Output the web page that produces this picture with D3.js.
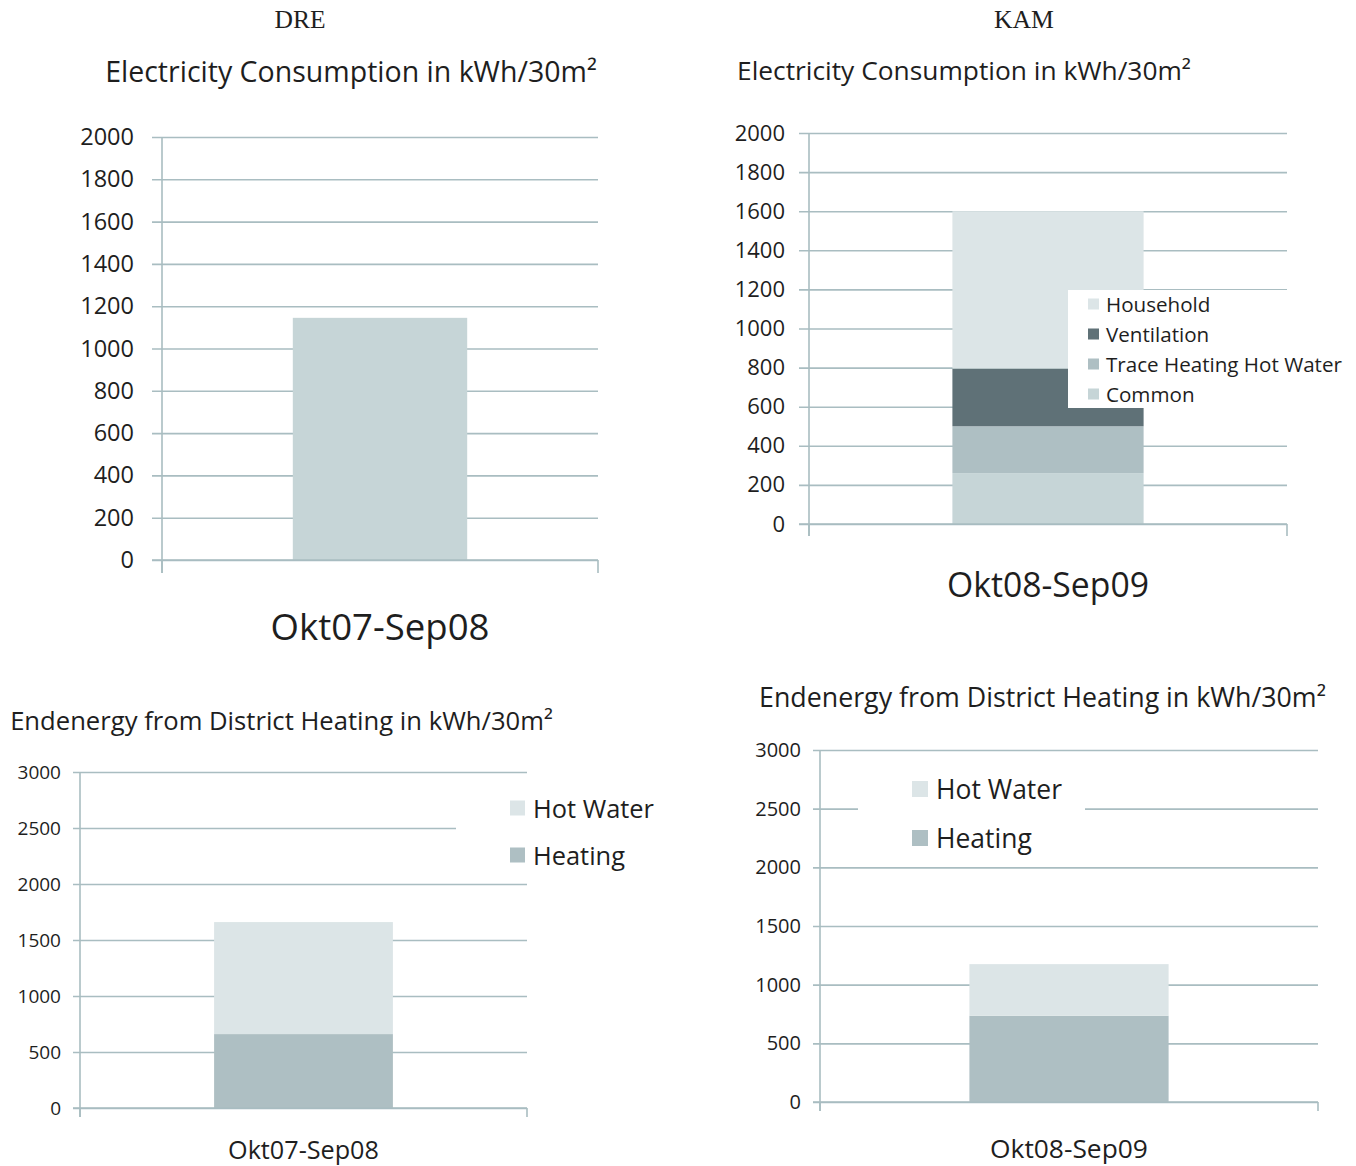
<!DOCTYPE html>
<html><head><meta charset="utf-8">
<script src="https://cdn.jsdelivr.net/npm/d3@7"></script>
<style>body{margin:0;background:#fff}svg{display:block}</style>
</head><body>
<svg id="c" width="1356" height="1166"></svg>
<script>
// ---- data ----
const PERIOD_DRE = ["Okt07-Sep08"];
const PERIOD_KAM = ["Okt08-Sep09"];
const ELEC_TICKS = [0,200,400,600,800,1000,1200,1400,1600,1800,2000];
const HEAT_TICKS = [0,500,1000,1500,2000,2500,3000];

const DRE_ELEC_SERIES = ["Total"];
const DRE_ELEC_VALUES = [1145];

const KAM_ELEC_SERIES = ["Common","Trace Heating Hot Water","Ventilation","Household"];
const KAM_ELEC_VALUES = [260,240,295,805];

const HEAT_SERIES = ["Heating","Hot Water"];
const DRE_HEAT_VALUES = [660,1000];
const KAM_HEAT_VALUES = [735,440];

const COLORS = {
  "Total":"#c6d5d7","Common":"#c6d5d7","Trace Heating Hot Water":"#aebfc3",
  "Ventilation":"#5f7177","Household":"#dce5e7","Heating":"#aebfc3","Hot Water":"#dce5e7"
};
const GRID = "#a9bdc1";
const TXT = "#1e1e1e";
const FONT = "'Open Sans', 'Noto Sans', sans-serif";

const svg = d3.select("#c");

function fitText(sel, width){
  const n = sel.node(); const fs = parseFloat(sel.attr("font-size"));
  const w = n.getComputedTextLength();
  if (w>0) sel.attr("font-size", fs*width/w);
  return sel;
}
function label(x, y, text, size, opts={}){
  const t = svg.append("text").attr("x",x).attr("y",y).text(text)
    .attr("font-family", opts.family||FONT).attr("font-size",size)
    .attr("fill",TXT).attr("dominant-baseline","central")
    .attr("text-anchor", opts.anchor||"middle");
  if (opts.width) fitText(t, opts.width);
  return t;
}

function chart(cfg){
  const g = svg.append("g");
  const x = d3.scaleBand().domain(cfg.cats).range([cfg.left,cfg.right]).paddingInner(0).paddingOuter(0.75);
  const y = d3.scaleLinear().domain([0, d3.max(cfg.ticks)]).range([cfg.y0, cfg.yTop]);
  const ax = g.append("g").attr("transform",`translate(${cfg.right},0)`)
    .call(d3.axisLeft(y).tickValues(cfg.ticks).tickSize(cfg.right-cfg.tickStart).tickPadding(cfg.tickStart-cfg.labelRight).tickFormat(d3.format("d")));
  ax.select(".domain").remove();
  ax.selectAll(".tick line").attr("stroke",GRID).attr("stroke-width",1.6);
  ax.selectAll(".tick text").attr("font-family",FONT).attr("font-size",cfg.tickFont).attr("fill",TXT);
  const stack = d3.stack().keys(cfg.series)(cfg.cats.map((c)=>{
    const o={cat:c}; cfg.series.forEach((s,j)=>o[s]=cfg.values[j]); return o;}));
  stack.forEach(layer=>{
    g.selectAll(null).data(layer).enter().append("rect")
      .attr("x",d=>x(d.data.cat)).attr("width",x.bandwidth())
      .attr("y",d=>y(d[1])).attr("height",d=>y(d[0])-y(d[1]))
      .attr("fill",COLORS[layer.key]);
  });
  g.append("line").attr("x1",cfg.left).attr("x2",cfg.left).attr("y1",y(d3.max(cfg.ticks))).attr("y2",cfg.axisBottom)
    .attr("stroke",GRID).attr("stroke-width",1.6);
  g.append("line").attr("x1",cfg.tickStart).attr("x2",cfg.right).attr("y1",cfg.y0).attr("y2",cfg.y0)
    .attr("stroke",GRID).attr("stroke-width",1.6);
  [cfg.left,cfg.right].forEach(xx=>g.append("line").attr("x1",xx).attr("x2",xx).attr("y1",cfg.y0).attr("y2",cfg.axisBottom)
    .attr("stroke",GRID).attr("stroke-width",1.6));
  if (cfg.legend){
    const L = cfg.legend;
    svg.append("rect").attr("x",L.box[0]).attr("y",L.box[1]).attr("width",L.box[2]).attr("height",L.box[3]).attr("fill","#fff");
    // measure the reference item first to size all legend texts alike
    const probe = label(-1000, -1000, L.items[L.fitIndex], L.font, {anchor:"start", width:L.fitWidth});
    const fs = parseFloat(probe.attr("font-size")); probe.remove();
    L.items.forEach((s,i)=>{
      const cy = L.y0 + i*L.dy;
      svg.append("rect").attr("x",L.mx).attr("y",cy-L.ms/2).attr("width",L.ms).attr("height",L.ms).attr("fill",COLORS[s]);
      label(L.tx, cy, s, fs, {anchor:"start"});
    });
  }
  label(x(cfg.cats[0])+x.bandwidth()/2, cfg.catY, cfg.cats[0], cfg.catFont, {width:cfg.catWidth});
}

// headers
label(300, 19, "DRE", 24, {family:"'Liberation Serif', 'DejaVu Serif', serif", width:51});
label(1024, 19, "KAM", 24, {family:"'Liberation Serif', 'DejaVu Serif', serif", width:60});
label(351, 71, "Electricity Consumption in kWh/30m²", 24, {width:492});
label(964, 70, "Electricity Consumption in kWh/30m²", 24, {width:454});
label(281.5, 720, "Endenergy from District Heating in kWh/30m²", 24, {width:543});
label(1042.5, 696, "Endenergy from District Heating in kWh/30m²", 24, {width:567});

chart({cats:PERIOD_DRE, series:DRE_ELEC_SERIES, values:DRE_ELEC_VALUES, ticks:ELEC_TICKS,
  left:162, right:598, yTop:137, y0:560, tickStart:152, axisBottom:573, labelRight:134, tickFont:23.5,
  catY:626, catFont:36, catWidth:219});

chart({cats:PERIOD_KAM, series:KAM_ELEC_SERIES, values:KAM_ELEC_VALUES, ticks:ELEC_TICKS,
  left:809, right:1287, yTop:133, y0:524, tickStart:799, axisBottom:536, labelRight:785, tickFont:22,
  catY:584, catFont:32, catWidth:202,
  legend:{box:[1068,290,284,118], items:["Household","Ventilation","Trace Heating Hot Water","Common"],
    y0:304, dy:30, mx:1088, ms:11, tx:1106, font:20, fitIndex:2, fitWidth:236}});

chart({cats:PERIOD_DRE, series:HEAT_SERIES, values:DRE_HEAT_VALUES, ticks:HEAT_TICKS,
  left:80, right:527, yTop:772, y0:1108, tickStart:73, axisBottom:1117, labelRight:61, tickFont:19,
  catY:1149, catFont:24, catWidth:151,
  legend:{box:[456,786,204,86], items:["Hot Water","Heating"],
    y0:808, dy:47, mx:510, ms:15, tx:533, font:24, fitIndex:0, fitWidth:121}});

chart({cats:PERIOD_KAM, series:HEAT_SERIES, values:KAM_HEAT_VALUES, ticks:HEAT_TICKS,
  left:820, right:1318, yTop:750, y0:1102, tickStart:813, axisBottom:1111, labelRight:801, tickFont:20,
  catY:1148, catFont:24, catWidth:158,
  legend:{box:[858,768,227,86], items:["Hot Water","Heating"],
    y0:789, dy:49, mx:912, ms:16, tx:936, font:25, fitIndex:0, fitWidth:126}});
</script>
</body></html>
